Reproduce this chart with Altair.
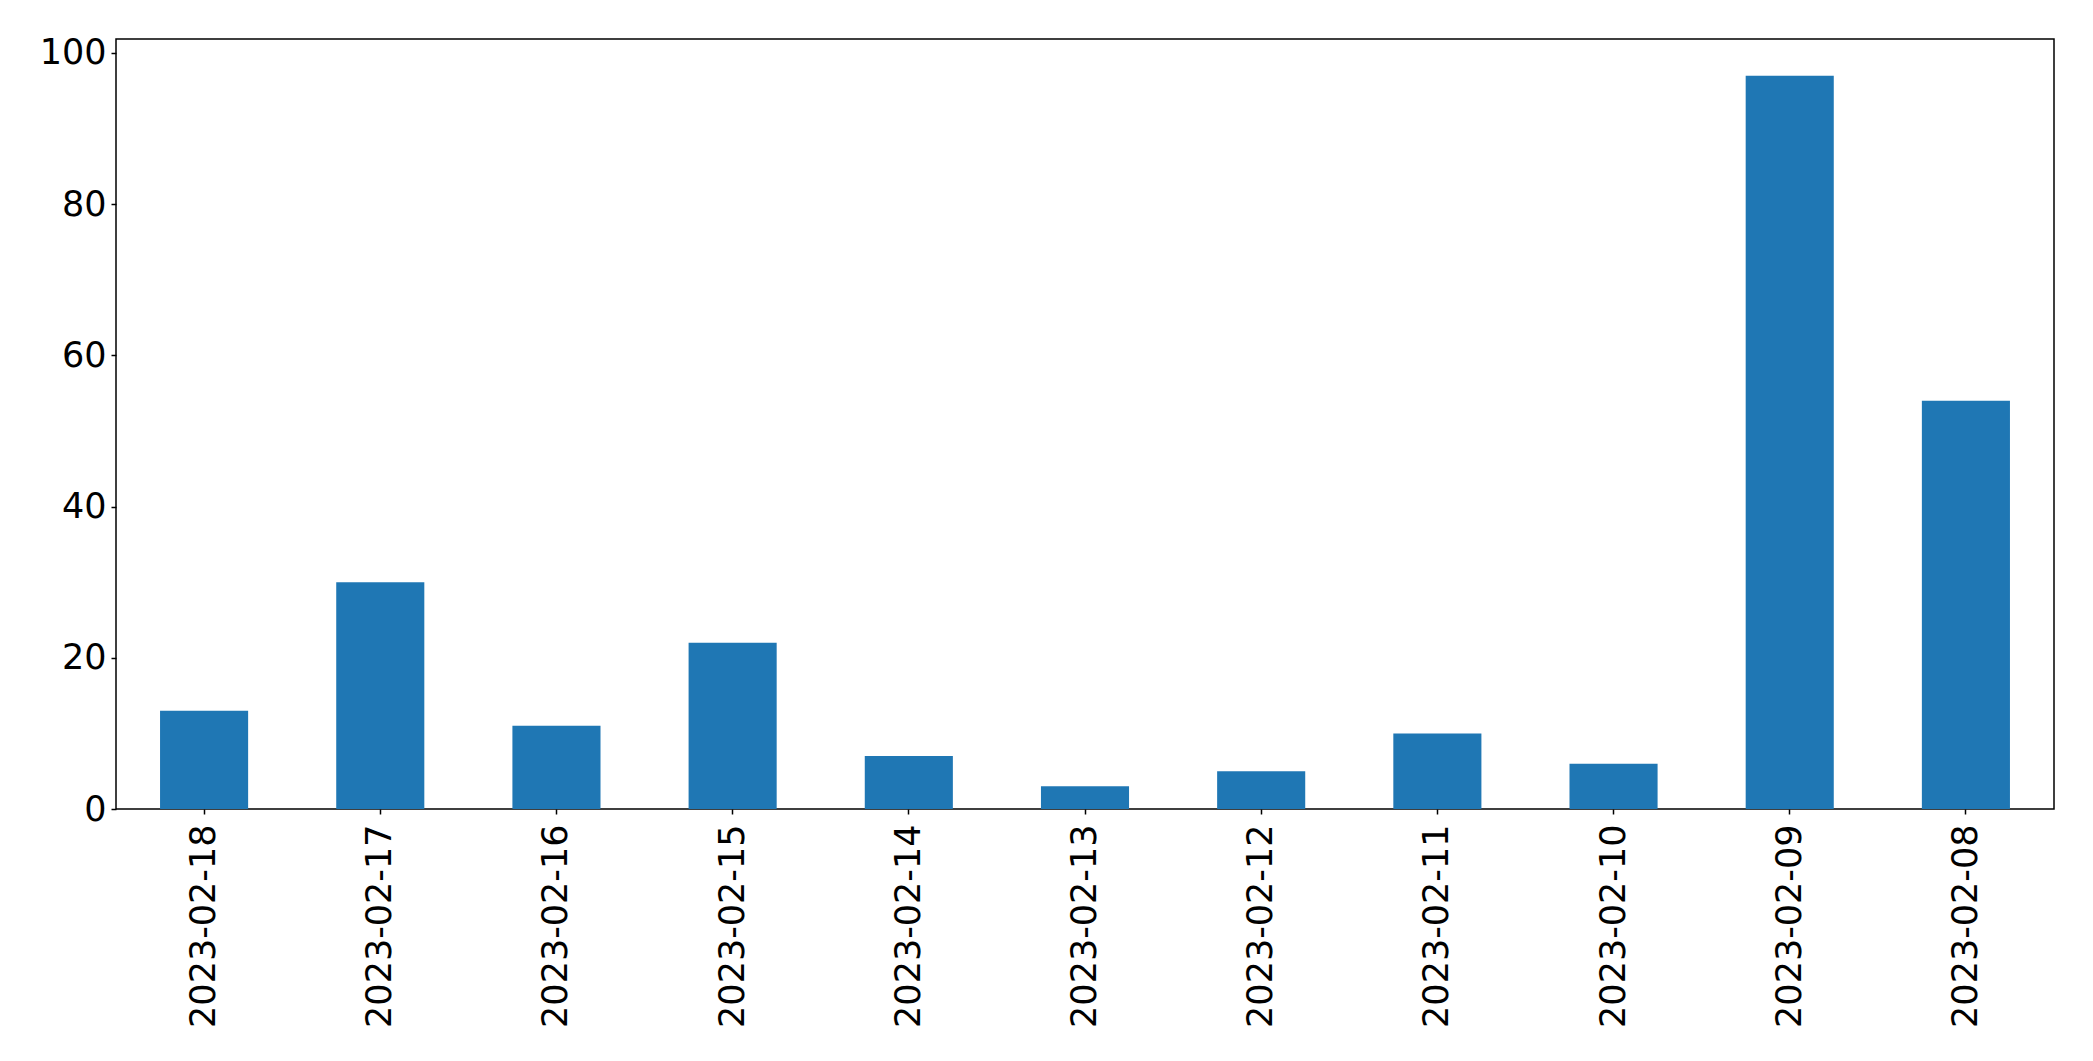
import altair as alt
import pandas as pd

dates = ["2023-02-18", "2023-02-17", "2023-02-16", "2023-02-15", "2023-02-14",
         "2023-02-13", "2023-02-12", "2023-02-11", "2023-02-10", "2023-02-09", "2023-02-08"]
counts = [13, 30, 11, 22, 7, 3, 5, 10, 6, 97, 54]
y_ticks = [0, 20, 40, 60, 80, 100]

df = pd.DataFrame({"date": dates, "count": counts})

axis_style = dict(domain=False, grid=False, labelFont="DejaVu Sans", labelFontSize=35,
                  labelColor="black", tickColor="black", tickWidth=1.5, tickSize=5,
                  labelLimit=0)

chart = alt.Chart(df).mark_bar(color="#1f77b4").encode(
    x=alt.X("date:N", sort=None, title=None,
            scale=alt.Scale(paddingInner=0.5, paddingOuter=0.25),
            axis=alt.Axis(labelAngle=270, labelAlign="right", labelBaseline="middle",
                          labelPadding=10, **axis_style)),
    y=alt.Y("count:Q", title=None,
            scale=alt.Scale(domain=[0, 101.85], nice=False, zero=True),
            axis=alt.Axis(values=y_ticks, labelPadding=5, **axis_style)),
).properties(
    width=1938, height=770,
    background="white",
    autosize=alt.AutoSizeParams(type="none"),
    padding={"left": 108, "top": 31, "right": 31, "bottom": 244},
).configure_view(
    stroke="black", strokeWidth=1.5
)

chart.save("out.html", embed_options={"renderer": "svg", "actions": False})
